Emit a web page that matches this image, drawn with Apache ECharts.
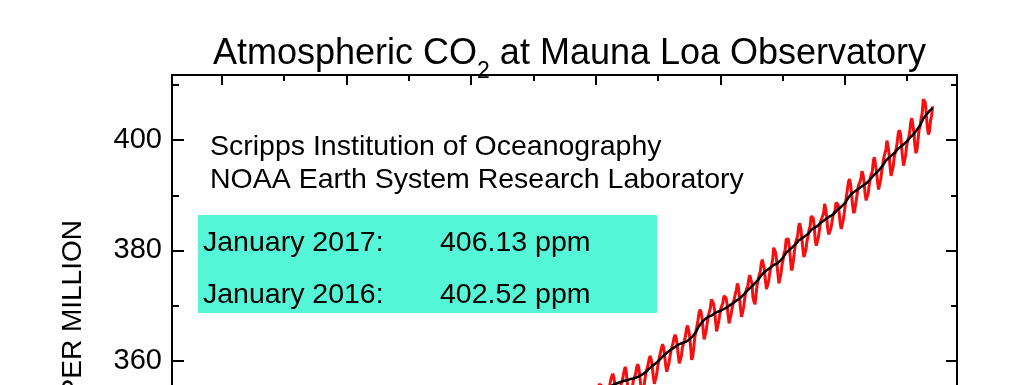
<!DOCTYPE html>
<html><head><meta charset="utf-8">
<script src="https://cdn.jsdelivr.net/npm/echarts@6/dist/echarts.min.js"></script>
<style>html,body{margin:0;padding:0;background:#fff;overflow:hidden}#c{width:1024px;height:740px}</style>
</head><body><div id="c"></div>
<script>
// ---- data ----
const START_YEAR = 1988; // first month of monthlyPpm is January of this year
const monthlyPpm = [
  350.38,351.68,352.24,353.66,354.18,353.68,352.58,350.83,349.56,349.56,350.81,351.75,
  352.66,353.07,353.43,354.70,355.11,354.63,353.01,351.62,349.98,350.09,351.34,352.72,
  353.62,354.23,355.02,355.77,355.95,355.53,354.18,352.71,350.97,351.11,352.58,353.89,
  354.93,355.53,356.49,357.17,357.68,357.03,355.62,353.63,352.17,352.42,353.48,354.72,
  355.75,356.38,357.26,358.24,358.91,358.04,355.96,354.06,352.90,353.11,354.26,355.44,
  356.64,357.05,357.68,358.84,359.39,358.84,357.22,355.48,353.81,354.12,355.33,356.71,
  357.96,358.53,359.35,360.35,360.89,360.28,358.92,357.18,355.85,355.86,357.30,358.58,
  359.81,360.78,361.08,362.40,363.02,362.38,360.88,359.16,358.04,358.24,359.49,360.64,
  361.85,362.57,363.20,364.24,364.71,364.20,362.91,361.16,359.55,359.35,360.79,362.35,
  363.13,363.72,364.49,365.81,366.40,365.62,364.47,362.51,360.19,360.77,362.43,364.28,
  365.31,366.15,367.31,368.61,369.29,368.87,367.64,365.77,363.90,364.23,365.46,366.97,
  368.15,368.87,369.59,371.14,371.00,370.35,369.27,367.15,365.35,365.70,367.11,368.38,
  369.46,369.76,370.51,371.76,371.87,371.47,370.34,368.39,366.79,366.95,368.48,369.60,
  370.50,371.18,372.12,372.87,374.03,373.31,371.62,369.55,367.96,368.09,369.68,371.24,
  372.43,373.09,373.52,374.86,375.55,375.41,374.02,371.49,370.71,370.25,372.08,373.78,
  374.68,375.62,376.11,377.65,378.35,378.13,376.62,374.50,372.99,373.01,374.35,375.70,
  376.79,377.36,378.39,380.50,380.62,379.55,377.76,375.83,374.05,374.22,375.84,377.44,
  378.34,379.61,380.08,382.05,382.24,382.08,380.67,378.67,376.42,376.80,378.31,379.96,
  381.37,382.02,382.56,384.37,384.92,384.03,382.28,380.48,378.81,379.06,380.14,381.66,
  382.58,383.71,384.34,386.23,386.41,385.87,384.45,381.84,380.86,380.86,382.36,383.61,
  385.07,385.72,385.85,386.71,388.45,387.64,386.10,383.95,382.91,382.73,383.96,385.02,
  386.26,386.39,387.24,388.67,389.03,388.30,386.86,384.95,383.91,384.03,385.55,386.92,
  388.45,389.83,391.08,392.50,392.95,392.06,390.13,388.15,386.80,387.18,388.59,389.68,
  391.18,391.97,392.37,393.10,394.35,393.73,392.42,390.23,389.07,388.98,390.36,391.91,
  393.18,393.82,394.38,396.36,396.88,395.57,394.37,392.41,391.06,391.29,392.81,394.32,
  395.56,396.81,397.14,398.25,399.92,398.98,397.61,395.30,393.51,393.66,395.14,396.81,
  397.76,398.51,399.66,401.37,401.78,401.25,399.11,397.03,395.38,395.66,397.21,398.93,
  399.97,400.42,401.50,403.28,403.96,402.80,401.31,398.93,397.63,398.29,400.16,401.85,
  402.52,404.04,404.83,407.42,407.70,406.81,404.39,402.25,401.03,401.57,403.53,404.42,
  406.13
];
// seasonally corrected trend, one value per quarter (Jan, Apr, Jul, Oct) from START_YEAR
const trendPpm = [
  350.9,351.4,351.8,352.2, 352.6,353.0,353.3,353.6, 353.9,354.2,354.6,354.9,
  355.2,355.5,355.8,356.0, 356.2,356.4,356.5,356.7, 356.8,357.0,357.3,357.6,
  358.0,358.6,359.1,359.5, 360.0,360.6,361.1,361.6, 362.0,362.4,362.8,363.1,
  363.3,363.5,363.9,364.5, 365.2,366.3,367.0,367.6, 368.0,368.2,368.6,368.9,
  369.1,369.4,369.7,370.1, 370.5,370.9,371.3,371.8, 372.4,373.0,373.5,374.1,
  374.7,375.5,376.1,376.5, 376.9,377.4,377.6,378.1, 378.7,379.6,380.1,380.6,
  381.1,381.8,382.2,382.6, 383.0,383.7,384.1,384.4, 385.0,385.4,385.8,386.2,
  386.5,387.1,387.6,388.1, 388.7,389.6,390.3,390.7, 391.1,391.5,391.9,392.3,
  392.9,393.6,394.1,394.7, 395.4,396.3,396.8,397.3, 397.8,398.5,398.9,399.4,
  399.9,400.6,401.1,401.9, 402.7,403.9,404.6,405.3, 405.8
];
const majorYears = [1960,1970,1980,1990,2000,2010];
const minorYears = [1965,1975,1985,1995,2005,2015];
const titleParts = ['Atmospheric CO', '2', ' at Mauna Loa Observatory'];
const sourceLines = ['Scripps Institution of Oceanography', 'NOAA Earth System Research Laboratory'];
const boxLabels = ['January 2017:', 'January 2016:'];
const boxValues = ['406.13 ppm', '402.52 ppm'];
const yAxisTitle = 'PARTS PER MILLION';

// ---- build ----
const FONT = "'Liberation Sans', Arial, Helvetica, sans-serif";
const redData = monthlyPpm.map((v, i) => [START_YEAR + (i + 0.5) / 12, v]);
const blackData = trendPpm.map((v, i) => [START_YEAR + (3 * i + 0.5) / 12, v]);

const chart = echarts.init(document.getElementById('c'), null, {renderer: 'canvas'});
const X_MIN = 1956, X_MAX = 2019, Y_MIN = 300, Y_MAX = 411.8;
const axisLine = {show: true, lineStyle: {color: '#000', width: 2}};

chart.setOption({
  backgroundColor: '#fff',
  animation: false,
  grid: {left: 172, right: 67, top: 75, bottom: 48, containLabel: false},
  xAxis: [
    {type: 'value', position: 'bottom', min: X_MIN, max: X_MAX,
     axisLine: axisLine, splitLine: {show: false},
     axisTick: {inside: true, length: 10, customValues: majorYears, lineStyle: {color: '#000', width: 2}},
     axisLabel: {customValues: majorYears, color: '#000', fontSize: 28, fontFamily: FONT,
       formatter: v => String(v)}},
    {type: 'value', position: 'top', min: X_MIN, max: X_MAX,
     axisLine: axisLine, splitLine: {show: false},
     axisTick: {inside: true, length: 10, customValues: majorYears, lineStyle: {color: '#000', width: 2}},
     axisLabel: {show: false}},
    {type: 'value', position: 'top', min: X_MIN, max: X_MAX,
     axisLine: {show: false}, splitLine: {show: false},
     axisTick: {inside: true, length: 6, customValues: minorYears, lineStyle: {color: '#000', width: 2}},
     axisLabel: {show: false}}
  ],
  yAxis: [
    {type: 'value', position: 'left', min: Y_MIN, max: Y_MAX, interval: 20,
     axisLine: axisLine, splitLine: {show: false},
     axisTick: {inside: true, length: 12, lineStyle: {color: '#000', width: 2}},
     minorTick: {show: true, splitNumber: 2, length: 7, lineStyle: {color: '#000', width: 2}},
     axisLabel: {color: '#000', fontSize: 29, fontFamily: FONT, margin: 10,
       formatter: v => (Math.abs(v % 20) < 1e-6 ? String(v) : '')}},
    {type: 'value', position: 'right', min: Y_MIN, max: Y_MAX, interval: 20,
     axisLine: axisLine, splitLine: {show: false},
     axisTick: {inside: true, length: 11, lineStyle: {color: '#000', width: 2}},
     minorTick: {show: true, splitNumber: 2, length: 6, lineStyle: {color: '#000', width: 2}},
     axisLabel: {show: false}}
  ],
  series: [
    {type: 'line', data: redData, xAxisIndex: 0, yAxisIndex: 0, showSymbol: false, symbol: 'none',
     lineStyle: {color: '#f50f0f', width: 3}, z: 2, silent: true},
    {type: 'line', data: blackData, xAxisIndex: 0, yAxisIndex: 0, showSymbol: false, symbol: 'none',
     lineStyle: {color: '#000', width: 2.5}, z: 3, silent: true}
  ],
  graphic: [
    {type: 'text', left: 213, top: 26, z: 10,
     style: {
       text: '{a|' + titleParts[0] + '}{s|' + titleParts[1] + '}{a|' + titleParts[2] + '}',
       rich: {
         a: {fontSize: 36, fontFamily: FONT, fill: '#000', lineHeight: 36},
         s: {fontSize: 23, fontFamily: FONT, fill: '#000', lineHeight: 23, padding: [34, 0, 0, 0]}
       }
     }},
    {type: 'text', x: 210, y: 147, z: 10,
     style: {text: sourceLines[0], font: '28.5px ' + FONT, fill: '#000', verticalAlign: 'middle'}},
    {type: 'text', x: 210, y: 180, z: 10,
     style: {text: sourceLines[1], font: '28.5px ' + FONT, fill: '#000', verticalAlign: 'middle'}},
    {type: 'rect', shape: {x: 198, y: 215, width: 459, height: 98}, style: {fill: '#55f5d7'}, z: 5},
    {type: 'text', x: 203, y: 243, z: 10,
     style: {text: boxLabels[0], font: '28.5px ' + FONT, fill: '#000', verticalAlign: 'middle'}},
    {type: 'text', x: 440, y: 243, z: 10,
     style: {text: boxValues[0], font: '28.5px ' + FONT, fill: '#000', verticalAlign: 'middle'}},
    {type: 'text', x: 203, y: 295, z: 10,
     style: {text: boxLabels[1], font: '28.5px ' + FONT, fill: '#000', verticalAlign: 'middle'}},
    {type: 'text', x: 440, y: 295, z: 10,
     style: {text: boxValues[1], font: '28.5px ' + FONT, fill: '#000', verticalAlign: 'middle'}},
    {type: 'text', x: 73, y: 358, rotation: Math.PI / 2, z: 10,
     style: {text: yAxisTitle, font: '28px ' + FONT, fill: '#000', align: 'center', verticalAlign: 'middle'}}
  ]
});
</script>
</body></html>
